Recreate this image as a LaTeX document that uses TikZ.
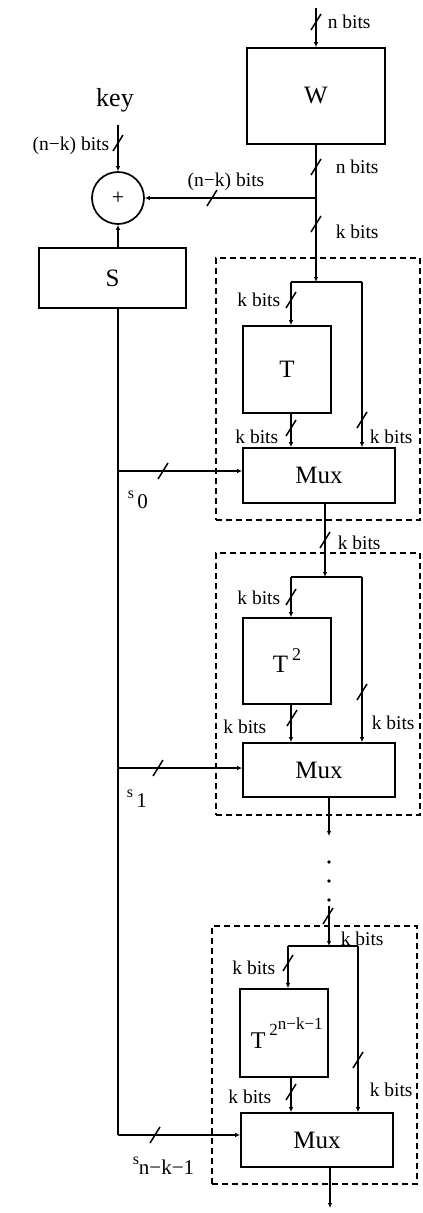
\documentclass[tikz,border=0pt]{standalone}
\usepackage{fontspec}
\setmainfont{Liberation Serif}
\usetikzlibrary{arrows.meta,calc}
\begin{document}
\begin{tikzpicture}[x=1pt,y=-1pt,
  line width=1.5pt,
  box/.style={draw,line width=1.7pt,inner sep=0pt,font=\fontsize{25}{25}\selectfont},
  lbl/.style={inner sep=1pt,font=\fontsize{19.5}{19.5}\selectfont},
  big/.style={inner sep=1pt,font=\fontsize{26}{26}\selectfont},
  arr/.style={-{Latex[length=5pt,width=4.5pt]}},
  grp/.style={draw,dash pattern=on 6pt off 4pt,line width=1.3pt,inner sep=0pt},
  dot/.style={circle,fill,inner sep=0pt,minimum size=3.8pt},
  bus/.pic={\draw[line width=1.5pt] (-5,8) -- (5,-8);}
]
\useasboundingbox (0,0) rectangle (423,1213);

% ---- top: W and key/xor/S ----
\node[box,minimum width=138,minimum height=96] (W) at (316,96) {W};
\coordinate (in) at (316,8);
\draw[arr] (in) -- (W.north);
\pic at (316,22) {bus};
\node[lbl,anchor=west] (nb1) at (326,22) {n bits};

\node[draw,circle,line width=1.7pt,minimum size=52pt,inner sep=0pt,font=\fontsize{22}{22}\selectfont] (xor) at (118,198) {+};
\node[big] (key) at (115,100) {key};
\coordinate (k0) at (118,125);
\draw[arr] (k0) -- (xor.north);
\pic at (118,143) {bus};
\node[lbl,anchor=east] (nkb1) at (111,146) {(n−k) bits};

\coordinate (j1) at (316,198);
\draw (W.south) -- (j1);
\pic at (316,167) {bus};
\node[lbl,anchor=west] (nb2) at (334,167) {n bits};
\draw[arr] (j1) -- (xor.east);
\pic at (212,198) {bus};
\node[lbl] (nkb2) at (226,182) {(n−k) bits};

\node[box,minimum width=147,minimum height=60] (S) at (112.5,278) {S};
\draw[arr] (xor.south |- S.north) -- (xor.south);

% ---- block 1 ----
\node[grp,minimum width=204pt,minimum height=262pt] (G1) at (318,389) {};
\node[box,minimum width=88,minimum height=87] (T1) at (287,369.5) {T};
\node[box,minimum width=152,minimum height=55] (M1) at (319,475.5) {Mux};
\coordinate (sp1) at (316,282);
\coordinate (sp1l) at (291,282);
\coordinate (sp1r) at (362,282);
\draw[arr] (j1) -- (sp1);
\pic at (316,224) {bus};
\node[lbl,anchor=west] (kb0) at (334,232) {k bits};
\draw (sp1l) -- (sp1r);
\draw[arr] (sp1l) -- (sp1l |- T1.north);
\pic at (291,300) {bus};
\node[lbl,anchor=east] (kb1a) at (282,300) {k bits};
\draw[arr] (T1.south -| sp1l) -- (sp1l |- M1.north);
\pic at (291,428) {bus};
\node[lbl,anchor=east] (kb1b) at (280,437) {k bits};
\draw[arr] (sp1r) -- (sp1r |- M1.north);
\pic at (362,420) {bus};
\node[lbl,anchor=west] (kb1c) at (368,437) {k bits};

% ---- block 2 ----
\node[grp,minimum width=204pt,minimum height=262pt] (G2) at (318,684) {};
\node[box,minimum width=88,minimum height=86] (T2) at (287,661) {T\,\raisebox{12pt}{\fontsize{18}{18}\selectfont 2}};
\node[box,minimum width=152,minimum height=54] (M2) at (319,770) {Mux};
\coordinate (sp2) at (325,577);
\coordinate (sp2l) at (291,577);
\coordinate (sp2r) at (362,577);
\draw[arr] (M1.south -| sp2) -- (sp2);
\pic at (325,540) {bus};
\node[lbl,anchor=west] (kb2) at (336,543) {k bits};
\draw (sp2l) -- (sp2r);
\draw[arr] (sp2l) -- (sp2l |- T2.north);
\pic at (291,597) {bus};
\node[lbl,anchor=east] (kb2a) at (282,598) {k bits};
\draw[arr] (T2.south -| sp2l) -- (sp2l |- M2.north);
\pic at (292,718) {bus};
\node[lbl,anchor=east] (kb2b) at (268,727) {k bits};
\draw[arr] (sp2r) -- (sp2r |- M2.north);
\pic at (362,692) {bus};
\node[lbl,anchor=west] (kb2c) at (370,723) {k bits};

% ---- dots ----
\coordinate (o2) at (329,836);
\draw[arr] (M2.south -| o2) -- (o2);
\node[dot] (d1) at (329,862) {};
\node[dot] (d2) at (329,881) {};
\node[dot] (d3) at (329,900) {};

% ---- block 3 ----
\node[grp,minimum width=205pt,minimum height=258pt] (G3) at (314.5,1055) {};
\node[box,minimum width=88,minimum height=88] (T3) at (284,1033) {};
\node[inner sep=0pt,font=\fontsize{24}{24}\selectfont,anchor=base west] (T3l) at (250,1048) {T\,\raisebox{13pt}{\fontsize{17}{17}\selectfont 2\raisebox{6pt}{n−k−1}}};
\node[box,minimum width=152,minimum height=54] (M3) at (317,1140) {Mux};
\coordinate (sp3) at (329,946);
\coordinate (sp3l) at (288,946);
\coordinate (sp3r) at (358,946);
\coordinate (i3) at (329,906);
\draw[arr] (i3) -- (sp3);
\pic at (328,916) {bus};
\node[lbl,anchor=west] (kb3) at (339,939) {k bits};
\draw (sp3l) -- (sp3r);
\draw[arr] (sp3l) -- (sp3l |- T3.north);
\pic at (288,963) {bus};
\node[lbl,anchor=east] (kb3a) at (277,968) {k bits};
\coordinate (t3o) at (291,1077);
\draw[arr] (t3o) -- (t3o |- M3.north);
\pic at (291,1092) {bus};
\node[lbl,anchor=east] (kb3b) at (273,1097) {k bits};
\draw[arr] (sp3r) -- (sp3r |- M3.north);
\pic at (358,1060) {bus};
\node[lbl,anchor=west] (kb3c) at (368,1090) {k bits};
\coordinate (out) at (330,1208);
\draw[arr] (M3.south -| out) -- (out);

% ---- S column and selector lines ----
\coordinate (c0) at (118,471);
\coordinate (c1) at (118,768);
\coordinate (c2) at (118,1135);
\draw (S.south -| c2) -- (c2);
\draw[arr] (c0) -- (c0 -| M1.west);
\draw[arr] (c1) -- (c1 -| M2.west);
\draw[arr] (c2) -- (c2 -| M3.west);
\pic at (163,471) {bus};
\pic at (158,768) {bus};
\pic at (155,1135) {bus};
\node[inner sep=0pt,font=\fontsize{21}{21}\selectfont,anchor=base west] (s0) at (127,508) {\raisebox{10pt}{\fontsize{16}{16}\selectfont s}\,0};
\node[inner sep=0pt,font=\fontsize{21}{21}\selectfont,anchor=base west] (s1) at (126,807) {\raisebox{10pt}{\fontsize{16}{16}\selectfont s}\,1};
\node[inner sep=0pt,font=\fontsize{21}{21}\selectfont,anchor=base west] (s2) at (132,1174) {\raisebox{10pt}{\fontsize{16}{16}\selectfont s}n−k−1};
\end{tikzpicture}
\end{document}
